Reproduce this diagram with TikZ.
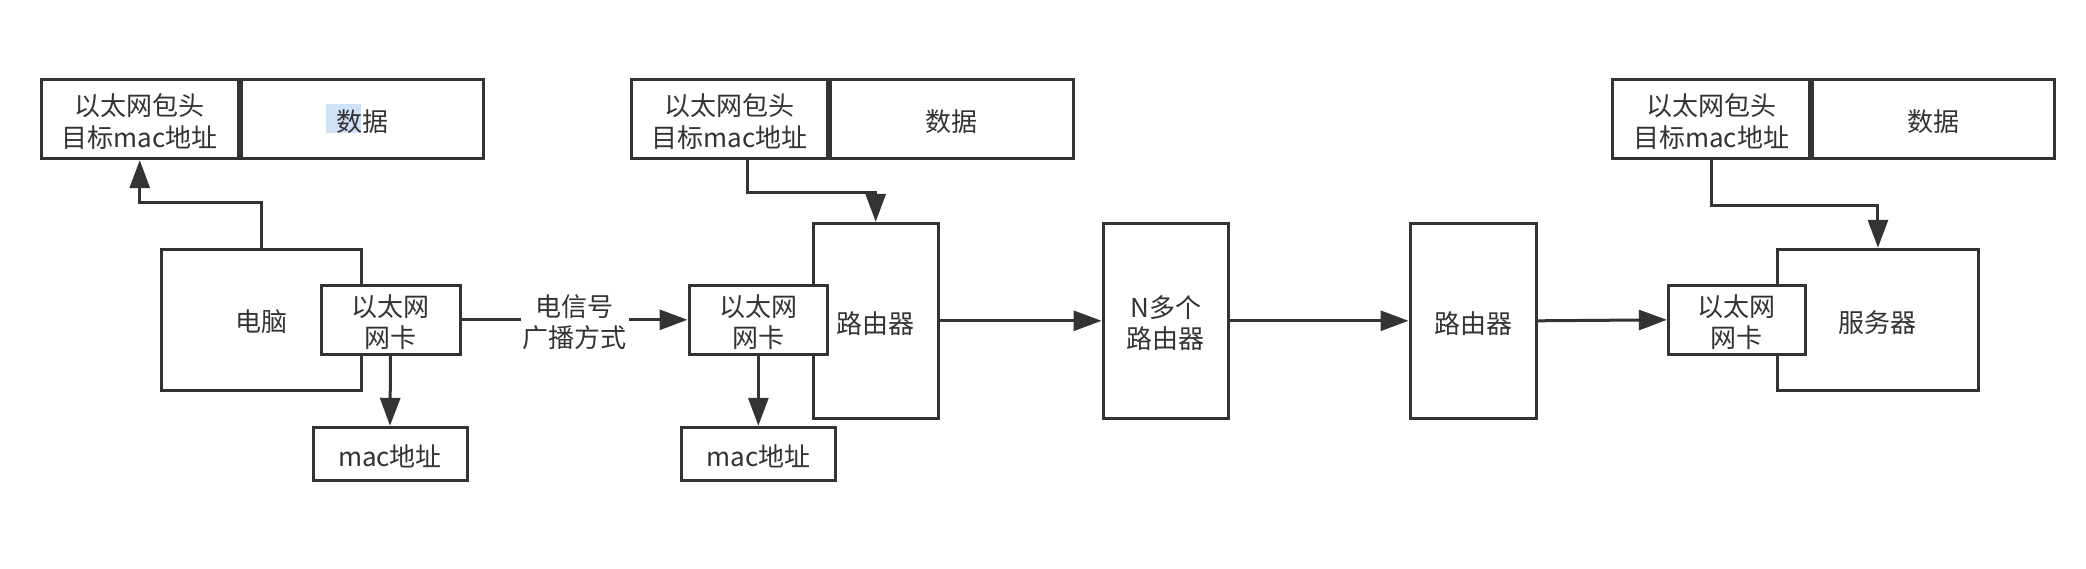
\documentclass[tikz,border=0pt]{standalone}
\usepackage{fontspec}
\setmainfont{Noto Sans CJK SC}
\usetikzlibrary{arrows.meta}
\definecolor{ink}{HTML}{333333}
\definecolor{hl}{HTML}{CFE3F8}
\tikzset{
  box/.style={draw=ink, line width=3pt, inner sep=0pt},
  wbox/.style={box, fill=white},
  T/.style={label={[text=ink, align=center, inner sep=0pt, yshift=-2.5pt,
    font=\fontsize{26}{31.5}\selectfont]center:#1}},
  arr/.style={draw=ink, line width=3pt, -{Triangle[length=28pt,width=20pt]}},
  lbl/.style={text=ink, align=center, fill=white, inner sep=2pt, yshift=-2.5pt,
    font=\fontsize{26}{31.5}\selectfont},
}
\begin{document}
\begin{tikzpicture}[x=1pt,y=-1pt]
\useasboundingbox[fill=white] (0,0) rectangle (2086,568);
% selection highlight
\fill[hl] (326,104) rectangle (360.7,132.7);
% packets
\node[box, T={以太网包头\\目标mac地址}, minimum width=196.5pt, minimum height=79.4pt] (p1h) at (139.75,119) {};
\node[box, T={数据}, minimum width=242.5pt, minimum height=79.4pt, anchor=west] (p1d) at (p1h.east) {};
\node[box, T={以太网包头\\目标mac地址}, minimum width=196.5pt, minimum height=79.4pt] (p2h) at (729.35,119) {};
\node[box, T={数据}, minimum width=242.5pt, minimum height=79.4pt, anchor=west] (p2d) at (p2h.east) {};
\node[box, T={以太网包头\\目标mac地址}, minimum width=196.5pt, minimum height=79.4pt] (p3h) at (1711,119) {};
\node[box, T={数据}, minimum width=242.5pt, minimum height=79.4pt, anchor=west] (p3d) at (p3h.east) {};
% computer
\node[wbox, T={电脑}, minimum width=200.6pt, minimum height=140.7pt] (pc) at (261.3,319.65) {};
\node[wbox, T={以太网\\网卡}, minimum width=139pt, minimum height=69pt] (nic1) at (390.5,319.8) {};
\node[wbox, T={mac地址}, minimum width=154pt, minimum height=53.4pt] (mac1) at (390,454) {};
% router 1
\node[wbox, T={路由器}, minimum width=124.6pt, minimum height=195pt] (r1) at (875.7,320.8) {};
\node[wbox, T={以太网\\网卡}, minimum width=138.7pt, minimum height=69pt] (nic2) at (758.35,319.8) {};
\node[wbox, T={mac地址}, minimum width=153.3pt, minimum height=53.4pt] (mac2) at (758.35,454) {};
% N routers
\node[wbox, T={N多个\\路由器}, minimum width=125.6pt, minimum height=195pt] (nb) at (1165.8,320.8) {};
% router 3
\node[wbox, T={路由器}, minimum width=126.6pt, minimum height=195pt] (r3) at (1473.3,320.8) {};
% server
\node[wbox, T={服务器}, minimum width=200.5pt, minimum height=140.7pt] (srv) at (1877.95,319.65) {};
\node[wbox, T={以太网\\网卡}, minimum width=136.9pt, minimum height=69pt] (nic3) at (1736.85,319.8) {};
% connectors
\draw[arr] (pc.north) -- ++(0,-45) -| (p1h.south);
\draw[arr] (nic1.south) -- (mac1.north);
\draw[arr] (nic1.east) -- node[lbl] {电信号\\广播方式} (nic2.west);
\draw[arr] ([xshift=18pt]p2h.south) -- ++(0,32.3) -| (r1.north);
\draw[arr] (nic2.south) -- (mac2.north);
\draw[arr] (r1.east) -- (nb.west);
\draw[arr] (nb.east) -- (r3.west);
\draw[arr] (r3.east) -- (nic3.west);
\draw[arr] (p3h.south) -- ++(0,45.6) -| (srv.north);
\end{tikzpicture}
\end{document}
